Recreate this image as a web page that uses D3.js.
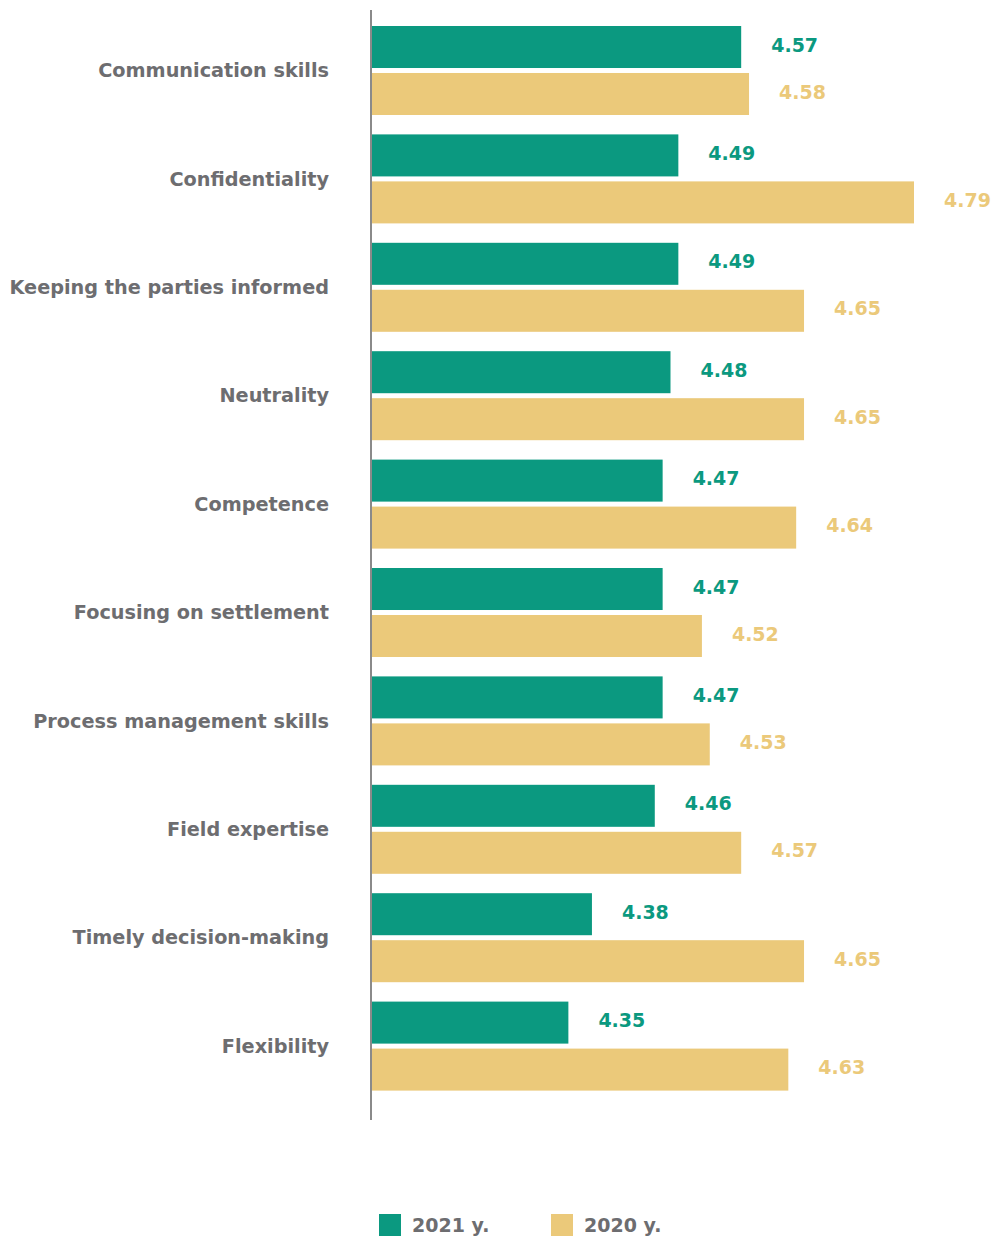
<!DOCTYPE html>
<html>
<head>
<meta charset="utf-8">
<script src="https://cdn.jsdelivr.net/npm/d3@7"></script>
<style>
  html, body { margin: 0; padding: 0; background: #fff; }
  svg text { font-family: "DejaVu Sans", Verdana, sans-serif; font-weight: bold; }
</style>
</head>
<body>
<svg id="chart" width="993" height="1239"></svg>
<script>
// Mediator evaluation scores by criterion
const categories = [
  "Communication skills",
  "Confidentiality",
  "Keeping the parties informed",
  "Neutrality",
  "Competence",
  "Focusing on settlement",
  "Process management skills",
  "Field expertise",
  "Timely decision-making",
  "Flexibility"
];
const seriesNames = ["2021 y.", "2020 y."];
const values2021 = [4.57, 4.49, 4.49, 4.48, 4.47, 4.47, 4.47, 4.46, 4.38, 4.35];
const values2020 = [4.58, 4.79, 4.65, 4.65, 4.64, 4.52, 4.53, 4.57, 4.65, 4.63];
const colors = ["#0b9980", "#ebc97a"];

const svg = d3.select("#chart");
const axisX = 371;
const plotTop = 10, plotBottom = 1120;

const x = d3.scaleLinear().domain([4.10, 4.79]).range([axisX + 1, 914]);
const y0 = d3.scaleBand().domain(categories).range([26, 1090.6]).paddingInner(0.179).paddingOuter(0);
const y1 = d3.scaleBand().domain(seriesNames).range([0, y0.bandwidth()]).paddingInner(0.106);

const rows = categories.map((c, i) => ({ cat: c, vals: [values2021[i], values2020[i]] }));

const g = svg.append("g");
const groups = g.selectAll("g.row").data(rows).join("g")
  .attr("class", "row")
  .attr("transform", d => `translate(0,${y0(d.cat)})`);

groups.selectAll("rect").data(d => d.vals.map((v, k) => ({ v, k })))
  .join("rect")
  .attr("x", x.range()[0])
  .attr("y", d => y1(seriesNames[d.k]))
  .attr("width", d => x(d.v) - x.range()[0])
  .attr("height", y1.bandwidth())
  .attr("fill", d => colors[d.k]);

groups.selectAll("text.val").data(d => d.vals.map((v, k) => ({ v, k })))
  .join("text")
  .attr("class", "val")
  .attr("x", d => x(d.v) + 30)
  .attr("y", d => y1(seriesNames[d.k]) + y1.bandwidth() / 2 - 2)
  .attr("dy", "0.35em")
  .attr("font-size", 19)
  .attr("fill", d => colors[d.k])
  .text(d => d.v.toFixed(2));

// category labels
g.selectAll("text.cat").data(categories).join("text")
  .attr("class", "cat")
  .attr("x", 329)
  .attr("y", d => y0(d) + y0.bandwidth() / 2)
  .attr("dy", "0.35em")
  .attr("text-anchor", "end")
  .attr("font-size", 19.25)
  .attr("fill", "#6d6d70")
  .text(d => d);

// vertical axis line
svg.append("line")
  .attr("x1", axisX).attr("x2", axisX)
  .attr("y1", plotTop).attr("y2", plotBottom)
  .attr("stroke", "#8a8a8a").attr("stroke-width", 2);

// legend
const legend = svg.append("g").attr("transform", "translate(379,1214)");
const items = legend.selectAll("g").data(seriesNames).join("g")
  .attr("transform", (d, i) => `translate(${i * 172},0)`);
items.append("rect").attr("width", 22).attr("height", 22).attr("fill", (d, i) => colors[i]);
items.append("text").attr("x", 33).attr("y", 11).attr("dy", "0.35em")
  .attr("font-size", 19).attr("fill", "#6d6d70").text(d => d);
</script>
</body>
</html>
